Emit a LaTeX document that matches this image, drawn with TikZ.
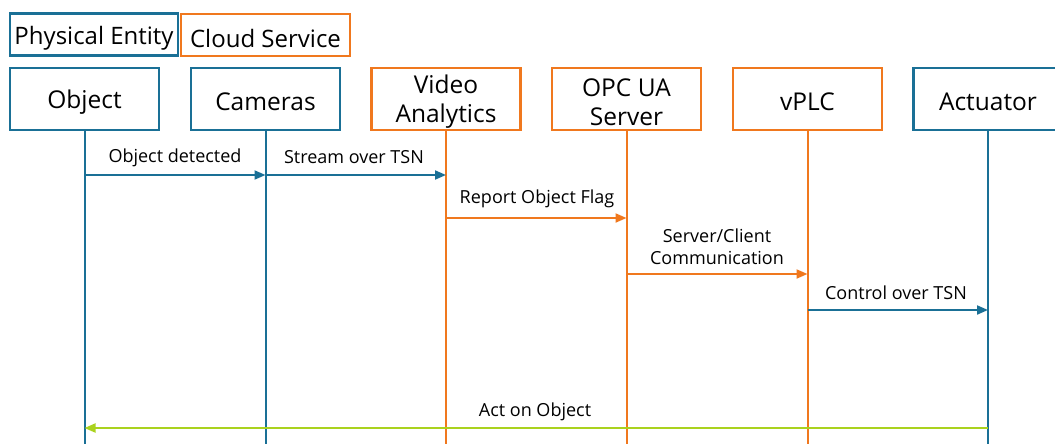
\documentclass[tikz,border=0pt]{standalone}
\usepackage{fontspec}
\setmainfont{Open Sans}
\usetikzlibrary{arrows.meta}
\definecolor{pblue}{RGB}{26,112,150}
\definecolor{corange}{RGB}{240,120,30}
\definecolor{agreen}{RGB}{170,210,30}
\begin{document}
\begin{tikzpicture}[x=1pt,y=-1pt,
  legendbox/.style={draw,line width=2.2pt,minimum height=42pt,inner sep=0pt},
  legendtext/.style={inner sep=0pt,yshift=-4pt,font=\fontsize{24}{28}\selectfont},
  actor/.style={draw,line width=2.2pt,minimum width=149pt,minimum height=62pt,inner sep=0pt},
  actortext/.style={inner sep=0pt,yshift=-3pt,align=center,font=\fontsize{24.5}{29}\selectfont},
  life/.style={line width=2pt},
  msg/.style={line width=2pt,-{Triangle[length=11pt,width=9pt]}},
  lbl/.style={font=\fontsize{18}{22}\selectfont,align=center,inner sep=0pt}]
\useasboundingbox (0,0) rectangle (1055,444);
\clip (0,0) rectangle (1055,444);
% legend
\node[legendbox,pblue,minimum width=168pt] (leg1) at (94,34.5) {};
\node[legendtext] (leg1t) at (leg1.center) {Physical Entity};
\node[legendbox,corange,minimum width=169pt] (leg2) at (265.5,35) {};
\node[legendtext] (leg2t) at (leg2.center) {Cloud Service};
% actors
\node[actor,pblue] (obj) at (84.5,99) {};
\node[actor,pblue] (cam) at (265.5,99) {};
\node[actor,corange] (va) at (446,99) {};
\node[actor,corange] (opc) at (626.5,99) {};
\node[actor,corange] (plc) at (807.5,99) {};
\node[actor,pblue] (act) at (988,99) {};
\node[actortext] (objt) at (obj.center) {Object};
\node[actortext] (camt) at (cam.center) {Cameras};
\node[actortext] (vat) at (va.center) {Video\\Analytics};
\node[actortext] (opct) at (opc.center) {OPC UA\\Server};
\node[actortext] (plct) at (plc.center) {vPLC};
\node[actortext] (actt) at (act.center) {Actuator};
% lifeline ends
\coordinate (objE) at (obj.south |- 0,450);
\coordinate (camE) at (cam.south |- 0,450);
\coordinate (vaE) at (va.south |- 0,450);
\coordinate (opcE) at (opc.south |- 0,450);
\coordinate (plcE) at (plc.south |- 0,450);
\coordinate (actE) at (act.south |- 0,450);
\draw[life,pblue] (obj.south) -- (objE);
\draw[life,pblue] (cam.south) -- (camE);
\draw[life,corange] (va.south) -- (vaE);
\draw[life,corange] (opc.south) -- (opcE);
\draw[life,corange] (plc.south) -- (plcE);
\draw[life,pblue] (act.south) -- (actE);
% messages
\draw[msg,pblue] (obj.south |- 0,175) -- (cam.south |- 0,175);
\node[lbl] (l1) at (175,157.5) {Object detected};
\draw[msg,pblue] (cam.south |- 0,175) -- (va.south |- 0,175);
\node[lbl] (l2) at (354,157.5) {Stream over TSN};
\draw[msg,corange] (va.south |- 0,218) -- (opc.south |- 0,218);
\node[lbl] (l3) at (537,198.5) {Report Object Flag};
\draw[msg,corange] (opc.south |- 0,274) -- (plc.south |- 0,274);
\node[lbl] (l4) at (717,247) {Server/Client\\Communication};
\draw[msg,pblue] (plc.south |- 0,310) -- (act.south |- 0,310);
\node[lbl] (l5) at (896,293) {Control over TSN};
\draw[msg,agreen] (act.south |- 0,428) -- (obj.south |- 0,428);
\node[lbl] (l6) at (535,412) {Act on Object};
\end{tikzpicture}
\end{document}
